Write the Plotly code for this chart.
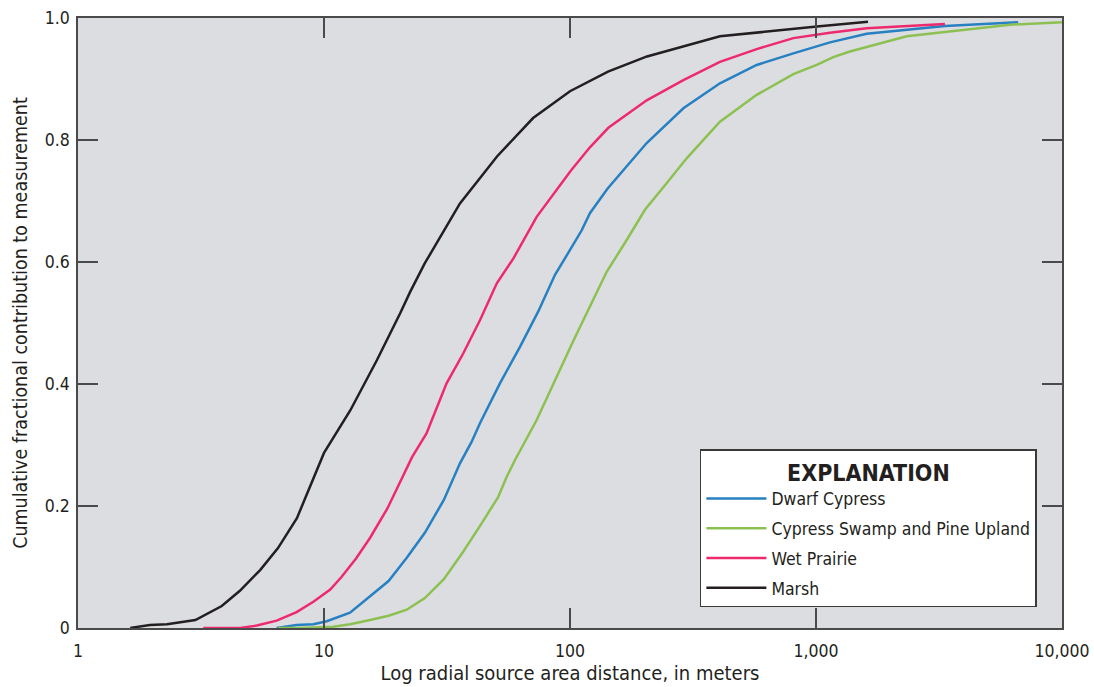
import plotly.graph_objects as go

# ---- data ----
marsh_x = [1.63, 1.96, 2.3, 3.0, 3.84, 4.55, 5.5, 6.5, 7.76, 8.9, 10, 12.8, 16.4, 20.4, 22.4,
           25.7, 35.7, 50.5, 70.8, 100, 142.7, 205.6, 407, 1009, 1627]
marsh_y = [0.0, 0.005, 0.006, 0.013, 0.036, 0.061, 0.095, 0.131, 0.18, 0.238, 0.287, 0.357,
           0.439, 0.516, 0.551, 0.598, 0.696, 0.773, 0.836, 0.88, 0.912, 0.937, 0.97, 0.986, 0.994]

wet_x = [3.23, 4.56, 5.33, 6.42, 7.74, 9.05, 10.6, 11.8, 13.5, 15.4, 18.1, 21.3, 22.8, 26.1,
         31.5, 36.8, 43.1, 50.4, 58.9, 73.2, 86.9, 100.9, 120.5, 143.2, 205, 289, 407, 574,
         809, 1140, 1607, 3343]
wet_y = [0.0, 0.0, 0.004, 0.012, 0.026, 0.043, 0.063, 0.084, 0.114, 0.148, 0.196, 0.255, 0.28,
         0.319, 0.401, 0.45, 0.505, 0.565, 0.606, 0.674, 0.715, 0.75, 0.788, 0.82, 0.865,
         0.898, 0.928, 0.949, 0.967, 0.976, 0.983, 0.99]

dwarf_x = [6.42, 7.74, 9.05, 10.26, 12.76, 15.2, 18.3, 21.7, 25.7, 30.7, 35.7, 39.8, 43.1,
           51.9, 62.6, 74.3, 86.9, 97.0, 111.6, 120.5, 142, 205, 289, 407, 574, 809, 1140,
           1607, 3343, 6637]
dwarf_y = [0.0, 0.005, 0.006, 0.011, 0.025, 0.05, 0.077, 0.115, 0.156, 0.21, 0.27, 0.305,
           0.336, 0.401, 0.461, 0.519, 0.579, 0.611, 0.652, 0.68, 0.72, 0.795, 0.852, 0.893,
           0.923, 0.942, 0.96, 0.974, 0.987, 0.993]

swamp_x = [6.52, 8.0, 10.9, 12.76, 15.4, 18.3, 21.7, 25.7, 30.7, 36.8, 43.8, 51.1, 55.3, 59.7,
           73.2, 86.9, 103, 120.5, 141, 170, 202, 247, 298, 407, 574, 809, 1007, 1175, 1374,
           2338, 6150, 10000]
swamp_y = [0.0, 0.0, 0.002, 0.006, 0.013, 0.02, 0.03, 0.049, 0.08, 0.125, 0.172, 0.215, 0.248,
           0.275, 0.341, 0.407, 0.47, 0.527, 0.584, 0.636, 0.686, 0.729, 0.77, 0.83, 0.874,
           0.908, 0.923, 0.936, 0.945, 0.97, 0.989, 0.993]

series = [
    ("Dwarf Cypress", dwarf_x, dwarf_y, "#2680c2"),
    ("Cypress Swamp and Pine Upland", swamp_x, swamp_y, "#8cc152"),
    ("Wet Prairie", wet_x, wet_y, "#ee2a6e"),
    ("Marsh", marsh_x, marsh_y, "#231f20"),
]

x_tickvals = [1, 10, 100, 1000, 10000]
x_ticktext = ["1", "10", "100", "1,000", "10,000"]
y_tickvals = [0, 0.2, 0.4, 0.6, 0.8, 1.0]
y_ticktext = ["0", "0.2", "0.4", "0.6", "0.8", "1.0"]

FONT = "DejaVu Sans Condensed, Liberation Sans Narrow, Roboto, sans-serif"
AXIS_COLOR = "#4a4a4a"

fig = go.Figure()
for i, (name, xs, ys, col) in enumerate(series):
    fig.add_trace(go.Scatter(x=xs, y=ys, mode="lines", name=name,
                             legendgroup=f"g{i}",
                             line=dict(color=col, width=2.5)))

fig.update_layout(
    width=1094, height=687,
    margin=dict(l=78, r=32, t=18, b=59, autoexpand=False),
    paper_bgcolor="white",
    plot_bgcolor="#dcdde0",
    font=dict(family=FONT, size=17.5, color="#231f20"),
    showlegend=True,
    legend=dict(
        x=0.632, y=0.293, xanchor="left", yanchor="top",
        bgcolor="white", bordercolor="#3a3a3a", borderwidth=1.5,
        font=dict(family=FONT, size=17.5, color="#231f20"),
        title=dict(text="<b>EXPLANATION</b>", side="top center",
                   font=dict(family=FONT, size=23, color="#231f20")),
        tracegroupgap=4,
        itemwidth=60,
    ),
    xaxis=dict(
        type="log", range=[0, 4], automargin=False,
        tickvals=x_tickvals, ticktext=x_ticktext,
        ticks="inside", ticklen=20, tickwidth=1.5, tickcolor=AXIS_COLOR,
        showline=True, linecolor=AXIS_COLOR, linewidth=1.5, mirror="ticks",
        showgrid=False, zeroline=False, ticklabeloverflow="allow",
        ticklabelstandoff=6,
        title=dict(text="Log radial source area distance, in meters", standoff=4,
                   font=dict(size=20)),
    ),
    yaxis=dict(
        range=[0, 1], automargin=False,
        tickvals=y_tickvals, ticktext=y_ticktext,
        ticks="inside", ticklen=20, tickwidth=1.5, tickcolor=AXIS_COLOR,
        showline=True, linecolor=AXIS_COLOR, linewidth=1.5, mirror="ticks",
        showgrid=False, zeroline=False, ticklabeloverflow="allow",
        ticklabelstandoff=3,
        title=dict(text="Cumulative fractional contribution to measurement", standoff=12,
                   font=dict(size=19.5)),
    ),
)

# remove the page's default body margin so the figure fills the window exactly
fig.write_html(
    "out.html",
    config={"displayModeBar": False},
    post_script="document.body.style.margin='0';document.body.style.overflow='hidden';",
)
